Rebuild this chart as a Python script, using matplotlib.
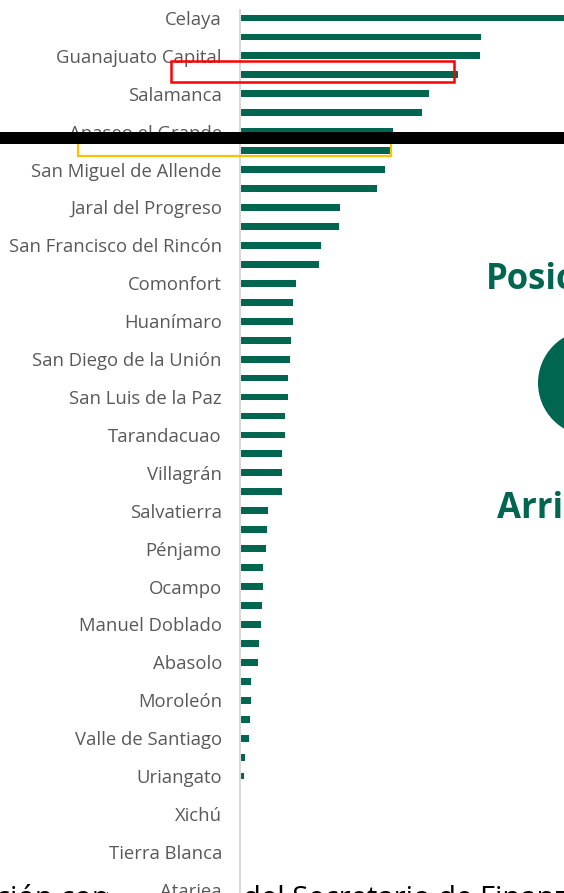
import matplotlib.pyplot as plt
from matplotlib.patches import Rectangle, Ellipse

# municipios (labeled rows every other bar; the rest have hidden labels)
municipios = [
    "Celaya", "León", "Guanajuato Capital", "Irapuato", "Salamanca", "Silao",
    "Apaseo el Grande", "San José Iturbide", "San Miguel de Allende", "Cortazar",
    "Jaral del Progreso", "Purísima del Rincón", "San Francisco del Rincón",
    "Dolores Hidalgo", "Comonfort", "Apaseo el Alto", "Huanímaro", "Acámbaro",
    "San Diego de la Unión", "Santa Cruz de Juventino Rosas", "San Luis de la Paz",
    "Romita", "Tarandacuao", "Cuerámaro", "Villagrán", "Yuriria", "Salvatierra",
    "Tarimoro", "Pénjamo", "San Felipe", "Ocampo", "Jerécuaro",
    "Manuel Doblado", "Pueblo Nuevo", "Abasolo", "Doctor Mora", "Moroleón",
    "Coroneo", "Valle de Santiago", "Santiago Maravatío", "Uriangato",
    "Victoria", "Xichú", "Santa Catarina", "Tierra Blanca", "Estatal", "Atarjea",
]
valores = [
    420, 240, 239, 217, 188, 181, 152, 149, 144, 136,
    99, 98, 80, 78, 55, 52, 52, 50, 49, 47,
    47, 44, 44, 41, 40.5, 40.5, 27, 26, 25, 22,
    22, 21, 20, 18, 17, 9.7, 9.7, 8.5, 8, 4,
    3, 0, 0, 0, 0, 0, 0,
]

VERDE = "#006650"
W, H = 564, 893

fig = plt.figure(figsize=(W / 100, H / 100), dpi=100)


def fx(x):
    return x / W


def fy(y):
    return 1 - y / H


ax = fig.add_axes([fx(240), 0, fx(324), (H - 10) / H], zorder=5)
ax.set_facecolor("none")
pos = list(range(len(municipios)))
ax.barh(pos, valores, height=0.36, color=VERDE, left=0.8)
ax.set_xlim(-0.2, 323.8)
ax.set_ylim(46.17, -0.42)
ax.set_yticks(pos)
ax.set_yticklabels([m if i % 2 == 0 else "" for i, m in enumerate(municipios)],
                   fontsize=13.3, color="#595959", family="Open Sans")
ax.tick_params(axis="y", length=0, pad=13)
ax.set_xticks([])
for s in ["top", "right", "bottom"]:
    ax.spines[s].set_visible(False)
ax.spines["left"].set_color("#d9d9d9")
ax.spines["left"].set_linewidth(1.5)

# slide text behind the chart (bottom)
fig.text(fx(-4), fy(907), "ción comparativa", fontsize=21, color="black",
         family="Open Sans", zorder=1)
fig.text(fx(243), fy(907), "del Secretario de Finanzas", fontsize=21,
         color="black", family="Open Sans", zorder=1)
fig.patches.append(Rectangle((fx(108), 0), fx(128), 30 / H, transform=fig.transFigure,
                             facecolor="white", edgecolor="none", zorder=2))

# annotation overlays
fig.patches.append(Rectangle((fx(171), fy(82)), fx(283), 21 / H, transform=fig.transFigure,
                             fill=False, edgecolor="#ff0000", linewidth=1.8, zorder=10))
fig.patches.append(Rectangle((fx(78), fy(156)), fx(313), 18 / H, transform=fig.transFigure,
                             fill=False, edgecolor="#ffc000", linewidth=1.6, zorder=10))
fig.patches.append(Rectangle((0, fy(144)), 1, 12 / H, transform=fig.transFigure,
                             facecolor="black", edgecolor="none", zorder=11))

# right side of the slide
fig.patches.append(Ellipse((fx(591), fy(383)), 106 / W, 106 / H, transform=fig.transFigure,
                           facecolor=VERDE, edgecolor="none", zorder=10))
fig.text(fx(486), fy(280), "Posición", fontsize=25, fontweight="bold", color=VERDE,
         family="Open Sans", va="center", ha="left", zorder=10)
fig.text(fx(497), fy(509), "Arriba", fontsize=25, fontweight="bold", color=VERDE,
         family="Open Sans", va="center", ha="left", zorder=10)

fig.savefig("out.png", dpi=100)
